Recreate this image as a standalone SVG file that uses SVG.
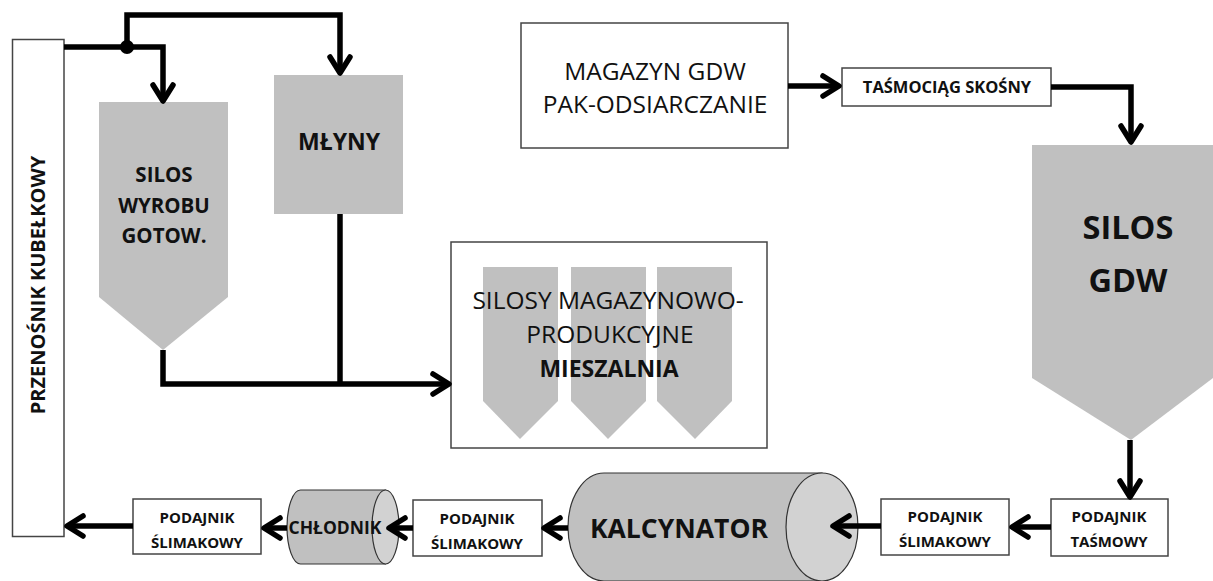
<svg xmlns="http://www.w3.org/2000/svg" width="1213" height="581" viewBox="0 0 1213 581">
<style>
.box{fill:#fff;stroke:#444;stroke-width:1.5}
.silo{fill:#c0c0c0;stroke:none}
.cyl{fill:#c0c0c0;stroke:#333;stroke-width:1.2}
.cap{fill:#d2d2d2;stroke:#333;stroke-width:1.2}
.t{font-family:"Open Sans","Liberation Sans",sans-serif;fill:#111;text-anchor:middle}
.b{font-weight:bold}
.con{fill:none;stroke:#000;stroke-width:5.5;stroke-linejoin:miter}
.arr{marker-end:url(#ah)}
</style>
<defs>
<marker id="ah" markerUnits="userSpaceOnUse" viewBox="0 0 26 26" refX="19" refY="13" markerWidth="26" markerHeight="26" orient="auto">
<path d="M4,3 L20,13 L4,23" fill="none" stroke="#000" stroke-width="5.5" stroke-linejoin="round" stroke-linecap="round"/>
</marker>
</defs>
<rect width="1213" height="581" fill="#fff"/>

<g id="przenosnik">
<rect class="box" x="12.5" y="39.5" width="51.5" height="497"/>
<text class="t b" font-size="20" transform="translate(45,285) rotate(-90)">PRZENOŚNIK KUBEŁKOWY</text>
</g>

<g id="silos-wyrobu">
<polygon class="silo" points="99,102 228,102 228,297 163,350 99,297"/>
<text class="t b" font-size="20.5" x="164" y="182">SILOS</text>
<text class="t b" font-size="20.5" x="164" y="213">WYROBU</text>
<text class="t b" font-size="20.5" x="164" y="243">GOTOW.</text>
</g>

<g id="mlyny">
<rect class="silo" x="274" y="75" width="129" height="139"/>
<text class="t b" font-size="23" x="339" y="150">MŁYNY</text>
</g>

<g id="silosy-mieszalnia">
<rect class="box" x="451" y="242" width="316" height="206"/>
<polygon class="silo" points="483,267 558,267 558,401 520,439 483,401"/>
<polygon class="silo" points="571,267 646,267 646,401 608,439 571,401"/>
<polygon class="silo" points="657,267 732,267 732,401 695,439 657,401"/>
<text class="t" font-size="24.5" x="608" y="309">SILOSY MAGAZYNOWO-</text>
<text class="t" font-size="24.5" x="610" y="343">PRODUKCYJNE</text>
<text class="t b" font-size="23" x="609" y="377">MIESZALNIA</text>
</g>

<g id="magazyn-gdw">
<rect class="box" x="521" y="23" width="267" height="125"/>
<text class="t" font-size="24.5" x="655" y="80">MAGAZYN GDW</text>
<text class="t" font-size="24.5" x="655" y="113">PAK-ODSIARCZANIE</text>
</g>

<g id="tasmociag">
<rect class="box" x="842" y="68" width="209" height="38"/>
<text class="t b" font-size="16.5" x="947" y="93">TAŚMOCIĄG SKOŚNY</text>
</g>

<g id="silos-gdw">
<polygon class="silo" points="1032,145 1213,145 1213,378 1131,440 1032,378"/>
<text class="t b" font-size="32.5" x="1128" y="239">SILOS</text>
<text class="t b" font-size="32.5" x="1128" y="292">GDW</text>
</g>

<g id="podajnik-tasmowy">
<rect class="box" x="1051" y="499" width="117" height="57"/>
<text class="t b" font-size="15" x="1109" y="522">PODAJNIK</text>
<text class="t b" font-size="15" x="1109" y="547">TAŚMOWY</text>
</g>

<g id="podajnik-slimakowy-1">
<rect class="box" x="881" y="499" width="128" height="56"/>
<text class="t b" font-size="15" x="945" y="522">PODAJNIK</text>
<text class="t b" font-size="15" x="945" y="547">ŚLIMAKOWY</text>
</g>

<g id="kalcynator">
<path class="cyl" d="M604,473 L822,473 L822,581 L604,581 A36,54 0 0 1 604,473 Z"/>
<ellipse class="cap" cx="822" cy="527" rx="36" ry="54"/>
<text class="t b" font-size="26.5" x="679" y="538">KALCYNATOR</text>
</g>

<g id="podajnik-slimakowy-2">
<rect class="box" x="413" y="500" width="129" height="56"/>
<text class="t b" font-size="15" x="477" y="524">PODAJNIK</text>
<text class="t b" font-size="15" x="477" y="549">ŚLIMAKOWY</text>
</g>

<g id="chlodnik">
<path class="cyl" d="M300.5,490 L385.5,490 L385.5,564 L300.5,564 A13.5,37 0 0 1 300.5,490 Z"/>
<ellipse class="cap" cx="385.5" cy="527" rx="13.5" ry="37"/>
<text class="t b" font-size="17.5" x="335" y="534">CHŁODNIK</text>
</g>

<g id="podajnik-slimakowy-3">
<rect class="box" x="133" y="499" width="128" height="55"/>
<text class="t b" font-size="15" x="197" y="523">PODAJNIK</text>
<text class="t b" font-size="15" x="197" y="548">ŚLIMAKOWY</text>
</g>

<g id="connectors">
<path class="con arr" d="M64,47 H163 V100"/>
<path class="con arr" d="M127,47 V15 H340 V72"/>
<circle cx="127" cy="47" r="7" fill="#000"/>
<path class="con" d="M340,214 V384"/>
<path class="con arr" d="M163,350 V384 H448"/>
<path class="con arr" d="M788,86 H838"/>
<path class="con arr" d="M1051,87 H1131 V141"/>
<path class="con arr" d="M1130,440 V496"/>
<path class="con arr" d="M1051,527 H1013"/>
<path class="con arr" d="M881,526 H834"/>
<path class="con arr" d="M568,528 H545"/>
<path class="con arr" d="M413,528 H390"/>
<path class="con arr" d="M287,528 H265"/>
<path class="con arr" d="M133,526 H68"/>
</g>
</svg>
